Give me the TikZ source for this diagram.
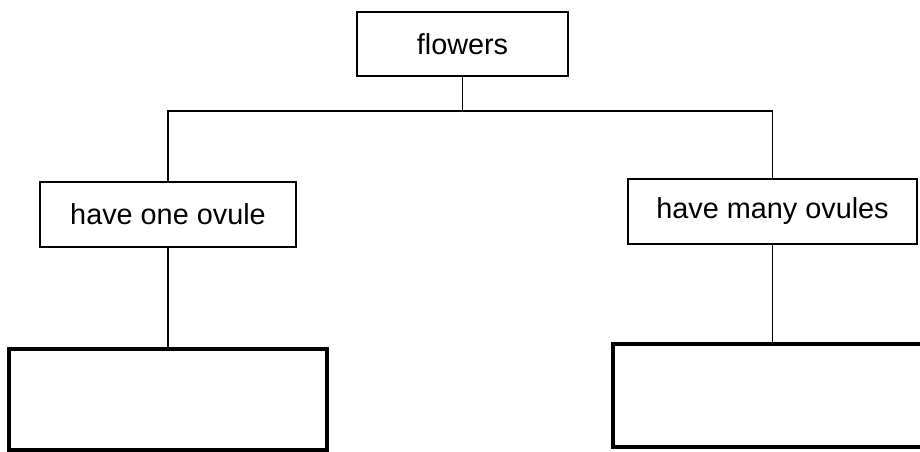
\documentclass[tikz,border=0pt]{standalone}
\usepackage{fontspec}
\setmainfont{Liberation Sans}
\usetikzlibrary{positioning}

\tikzset{
  labelbox/.style={draw,line width=1.4pt,inner sep=0pt,
    font=\fontsize{20.5}{24}\selectfont},
  answerbox/.style={draw,line width=2.8pt,inner sep=0pt},
  link/.style={line width=1.4pt}
}

\begin{document}
\begin{tikzpicture}[x=0.025cm,y=-0.025cm]
\useasboundingbox (0,0) rectangle (920,452);
% Top of the key
\node[labelbox,minimum width=5.275cm,minimum height=1.6cm] (flowers) at (462.5,44) {flowers};
% Second level
\node[labelbox,minimum width=6.4cm,minimum height=1.625cm] (oneovule) at (168,214.5) {have one ovule};
\node[labelbox,minimum width=7.225cm,minimum height=1.625cm] (manyovules) at (772.5,211.5) {have many ovules};
% Empty boxes to fill in
\node[answerbox,minimum width=7.95cm,minimum height=2.525cm] (oneblank) at (168,399.5) {};
\node[answerbox,minimum width=7.95cm,minimum height=2.575cm] (manyblank) at (772.5,395.5) {};
% Connectors
\coordinate (fork) at (flowers.south |- 0,111);
\draw[link] (flowers.south) -- (fork);
\draw[link] (oneovule.north) |- (fork) -| (manyovules.north);
\draw[link] (oneovule.south) -- (oneblank.north);
\draw[link] (manyovules.south) -- (manyblank.north);
\end{tikzpicture}
\end{document}
